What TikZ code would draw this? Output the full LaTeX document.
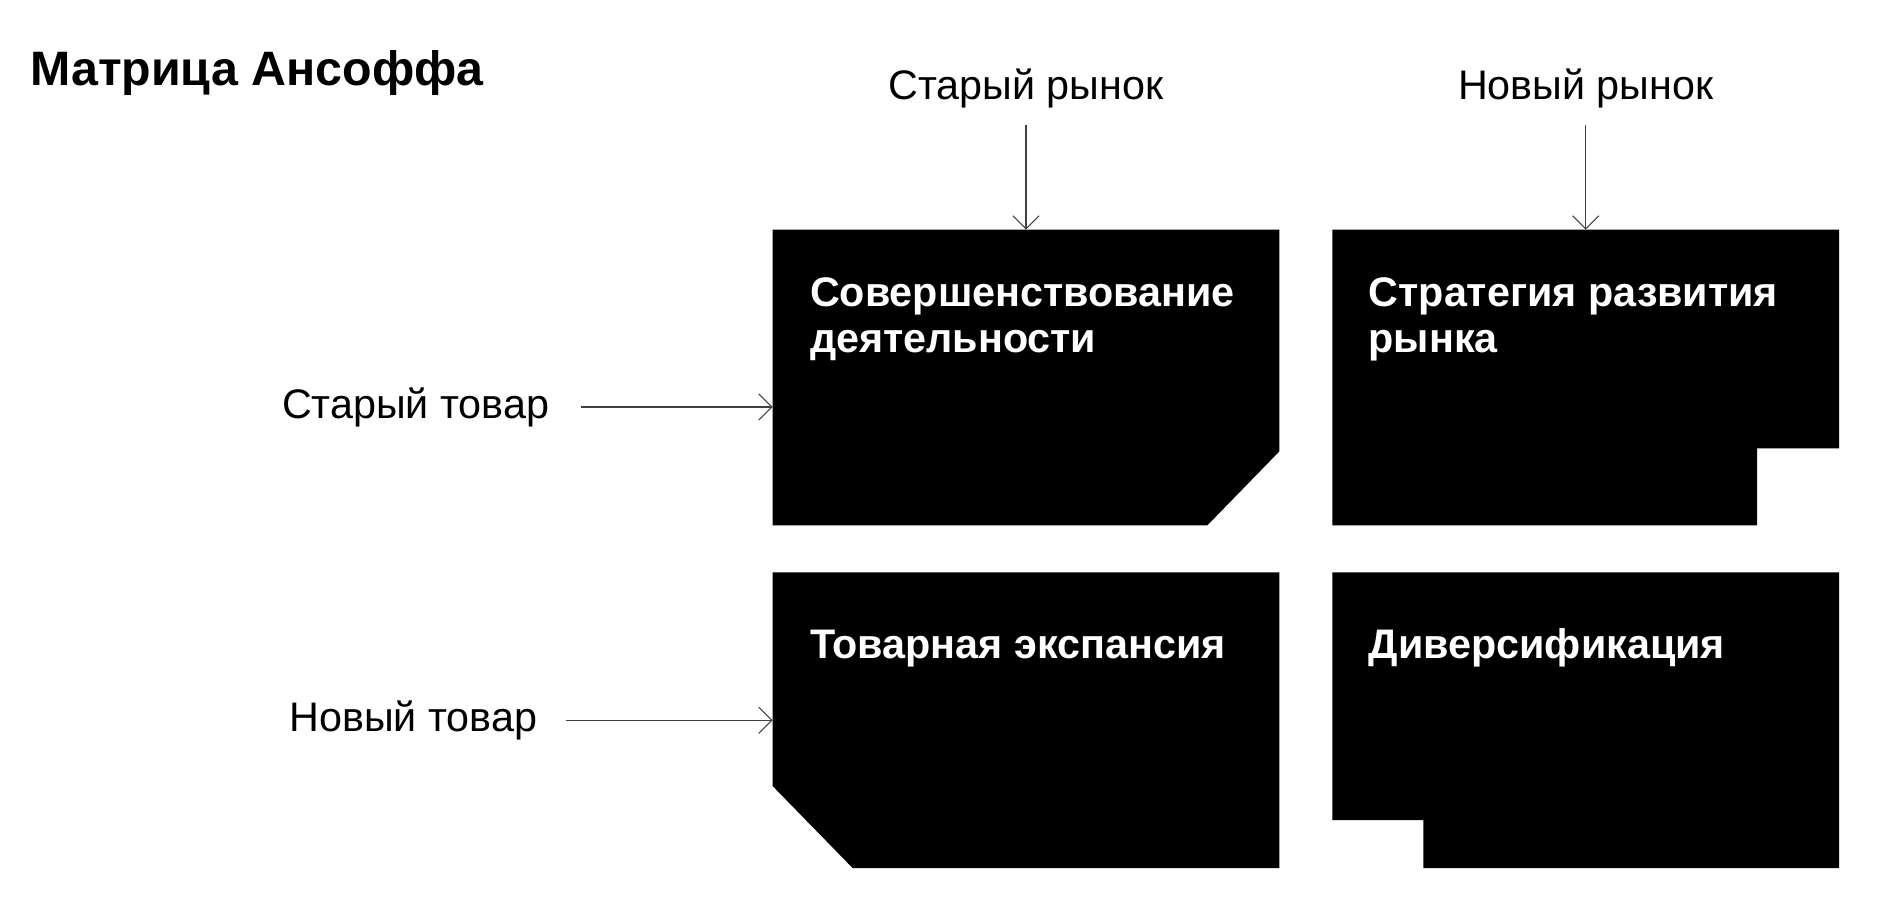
\documentclass[tikz,border=0pt]{standalone}
\usepackage{fontspec}
\setmainfont{Liberation Sans}
\usepackage{tikz}
\usetikzlibrary{positioning, arrows.meta, calc}

\tikzset{
  cell/.style={minimum width=10.12cm, minimum height=5.9cm, inner sep=0pt, draw=none},
  celltext/.style={anchor=base west, inner sep=0pt, align=left, text=white,
                   font=\fontsize{23.5}{26}\selectfont\bfseries},
  lbl/.style={inner sep=0pt, font=\fontsize{23.5}{28}\selectfont},
  conn/.style={-{Straight Barb[length=7.5pt, width=15pt]}, line width=0.6pt, draw=black!75}
}

\begin{document}
\begin{tikzpicture}
    \useasboundingbox (0,0) rectangle (37.64,-18.18);

    \node[anchor=base west, inner sep=0pt, font=\fontsize{27.5}{32}\selectfont\bfseries]
         (head) at (0.6,-1.7) {Матрица Ансоффа};

    % the four cells
    \node[cell] (c11) at (20.52,-7.55) {};
    \node[cell, right=1.06cm of c11] (c12) {};
    \node[cell, below=0.94cm of c11] (c21) {};
    \node[cell, right=1.06cm of c21] (c22) {};

    \fill (c11.north west) -- (c11.north east) -- ([yshift=1.48cm]c11.south east)
          -- ([xshift=-1.44cm]c11.south east) -- (c11.south west) -- cycle;
    \fill (c12.north west) -- (c12.north east) -- ([yshift=1.54cm]c12.south east)
          -- ++(-1.64,0) -- ([xshift=-1.64cm]c12.south east) -- (c12.south west) -- cycle;
    \fill (c21.north west) -- (c21.north east) -- (c21.south east)
          -- ([xshift=1.6cm]c21.south west) -- ([yshift=1.64cm]c21.south west) -- cycle;
    \fill (c22.north west) -- (c22.north east) -- (c22.south east)
          -- ([xshift=1.82cm]c22.south west) -- ++(0,0.96) -- ([yshift=0.96cm]c22.south west) -- cycle;

    % base sits on the last line
    \node[celltext] (t11) at ([xshift=0.74cm, yshift=-2.46cm]c11.north west) {Совершенствование\\деятельности};
    \node[celltext] (t12) at ([xshift=0.72cm, yshift=-2.46cm]c12.north west) {Стратегия развития\\рынка};
    \node[celltext] (t21) at ([xshift=0.74cm, yshift=-1.72cm]c21.north west) {Товарная экспансия};
    \node[celltext] (t22) at ([xshift=0.72cm, yshift=-1.72cm]c22.north west) {Диверсификация};

    % markets
    \coordinate (mk1) at ([yshift=2.1cm]c11.north);
    \coordinate (mk2) at ([yshift=2.1cm]c12.north);
    \node[lbl, above=0.33cm of mk1] (oldmkt) {Старый рынок};
    \node[lbl, above=0.33cm of mk2] (newmkt) {Новый рынок};
    \draw[conn] (mk1) -- (c11.north);
    \draw[conn] (mk2) -- (c12.north);

    % products
    \coordinate (pr1) at ([xshift=-3.84cm, yshift=-0.59cm]c11.west);
    \coordinate (pr2) at ([xshift=-4.14cm]c21.west);
    \node[lbl, left=0.62cm of pr1] (oldprod) {Старый товар};
    \node[lbl, left=0.56cm of pr2] (newprod) {Новый товар};
    \draw[conn] (pr1) -- (c11.west |- pr1);
    \draw[conn] (pr2) -- (c21.west);
\end{tikzpicture}
\end{document}
